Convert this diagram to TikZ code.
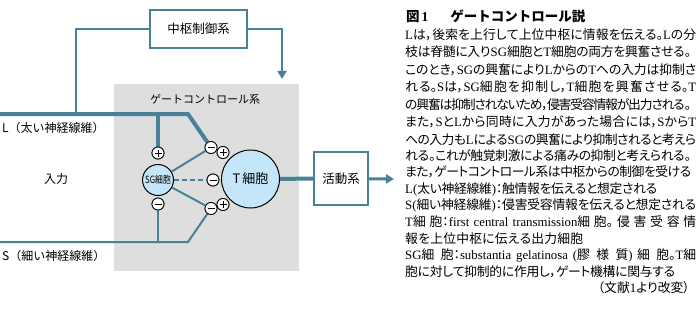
\documentclass[tikz,border=0pt]{standalone}
\usepackage{fontspec}
\usepackage{graphicx}
\setmainfont{Noto Sans CJK JP}
\newfontfamily\jpp[RawFeature=+palt]{Noto Sans CJK JP}
\newfontfamily\latf{Liberation Serif}
\newcommand\rmx[1]{{\latf #1}}
\usetikzlibrary{arrows.meta}
\XeTeXlinebreaklocale "ja"
\XeTeXlinebreakskip=0pt plus 6pt minus 3pt
\definecolor{lineblue}{RGB}{72,130,153}
\definecolor{cellblue}{RGB}{197,230,248}
\definecolor{gatebg}{RGB}{222,222,222}
\newcommand\bodyfont{\jpp\fontsize{12.8}{15}\selectfont}
\newcommand\tl[2]{\parbox[b]{#1pt}{\parindent=0pt\parfillskip=0pt\tolerance=10000\leftskip=0pt\rightskip=0pt #2}}
\tikzset{
  conn/.style={draw=lineblue, line width=2pt},
  thickconn/.style={draw=lineblue, line width=4pt},
  boxn/.style={draw=lineblue, line width=1.5pt, fill=white, inner sep=0, font=\fontsize{12.5}{14}\selectfont},
  cell/.style={circle, draw=black, line width=1pt, fill=cellblue, inner sep=0},
  sign/.style={circle, draw=black, line width=0.8pt, fill=white, minimum size=12pt, inner sep=0},
  plussign/.style={sign, path picture={\draw[line width=0.9pt]
     ([xshift=-3.5pt]path picture bounding box.center) -- ([xshift=3.5pt]path picture bounding box.center)
     ([yshift=-3.5pt]path picture bounding box.center) -- ([yshift=3.5pt]path picture bounding box.center);}},
  minussign/.style={sign, path picture={\draw[line width=0.9pt]
     ([xshift=-3.5pt]path picture bounding box.center) -- ([xshift=3.5pt]path picture bounding box.center);}},
  lbl/.style={inner sep=0, font=\fontsize{12}{14}\selectfont},
  txt/.style={anchor=base west, inner sep=0, font=\bodyfont},
  tip/.style={-{Triangle[width=9pt,length=8pt]}}
}
\begin{document}
\begin{tikzpicture}[x=1pt,y=-1pt]
\useasboundingbox (0,0) rectangle (699,313);
\fill[white] (0,0) rectangle (699,313);
% gate control box
\node[fill=gatebg, minimum width=185pt, minimum height=187pt, inner sep=0] (gate) at (206.5,177.5) {};
\node[lbl, font=\fontsize{11}{13}\selectfont] (gatet) at (205,99) {ゲートコントロール系};
% boxes
\node[boxn, minimum width=97pt, minimum height=38pt] (ctrl) at (198.5,29) {中枢制御系};
\node[boxn, minimum width=54pt, minimum height=53pt] (act) at (341,178.5) {活動系};
% cells
\node[cell, minimum size=31pt] (sg) at (158,180) {\fontsize{10}{10}\selectfont\scalebox{0.78}[1]{SG細胞}};
\node[cell, minimum size=58pt, font=\fontsize{13}{14}\selectfont] (tc) at (250.5,179) {T\,細胞};
% signs
\node[plussign] (p1) at (158,153) {};
\node[minussign] (m1) at (158,204) {};
\node[minussign] (mt) at (211,147.5) {};
\node[plussign] (pt) at (223,152.5) {};
\node[minussign] (mm) at (213,180) {};
\node[minussign] (mb) at (211,208.5) {};
\node[plussign] (pb) at (223,204.5) {};
% coordinates
\coordinate (Lstart) at (0,114);
\coordinate (Lbend) at (188,114);
\coordinate (Ljoin) at (76,114);
\coordinate (Lsg) at (158,114);
\coordinate (Sstart) at (0,242);
\coordinate (Sbend) at (188,242);
\coordinate (Ssg) at (158,242);
\coordinate (ctrlend) at (282,79);
\coordinate (actend) at (394,179);
% connectors
\draw[conn] (ctrl.west) -| (Ljoin);
\draw[conn, tip] (ctrl.east) -| (ctrlend);
\draw[thickconn] (Lstart) -- (Lbend) -- (mt);
\draw[thickconn] (Lsg) -- (p1);
\draw[conn] (sg) -- (mt);
\draw[conn] (sg) -- (mb);
\draw[conn, dashed, dash pattern=on 5pt off 3pt] (sg) -- (mm);
\draw[conn] (Sstart) -- (Sbend) -- (mb);
\draw[conn] (m1) -- (Ssg);
\draw[thickconn] (tc) -- (act);
\draw[draw=lineblue, line width=3pt, tip] (act) -- (actend);
% redraw signs on top
\node[plussign] at (p1) {};
\node[minussign] at (m1) {};
\node[minussign] at (mt) {};
\node[plussign] at (pt) {};
\node[minussign] at (mm) {};
\node[minussign] at (mb) {};
\node[plussign] at (pb) {};
% labels
\node[lbl, anchor=west] (Llab) at (2,128) {L（太い神経線維）};
\node[lbl, anchor=west] (Slab) at (2,256) {S（細い神経線維）};
\node[lbl] (inp) at (56,179) {入力};
% text column
\node[anchor=base west, inner sep=0, font=\fontsize{13.5}{15}\selectfont\bfseries] (title) at (406,22)
  {図\hspace{2pt}\rmx{\bfseries 1}\hspace{22pt}ゲートコントロール説};
\node[txt] (t1) at (405,39.7) {\tl{291}{\rmx{L}は，後索を上行して上位中枢に情報を伝える。\rmx{L}の分}};
\node[txt] (t2) at (405,57) {\tl{286}{枝は脊髄に入り\rmx{SG}細胞と\rmx{T}細胞の両方を興奮させる。}};
\node[txt] (t3) at (405,74.7) {\tl{291}{このとき，\rmx{SG}の興奮により\rmx{L}からの\rmx{T}への入力は抑制さ}};
\node[txt] (t4) at (405,92) {\tl{291}{れる。\rmx{S}は，\rmx{SG}細胞を抑制し，\rmx{T}細胞を興奮させる。\rmx{T}}};
\node[txt] (t5) at (405,109.7) {\tl{286}{の興奮は抑制されないため，侵害受容情報が出力される。}};
\node[txt] (t6) at (405,126.7) {\tl{291}{また，\rmx{S}と\rmx{L}から同時に入力があった場合には，\rmx{S}から\rmx{T}}};
\node[txt] (t7) at (405,144.5) {\tl{291}{への入力も\rmx{L}による\rmx{SG}の興奮により抑制されると考えら}};
\node[txt] (t8) at (405,160) {\tl{286}{れる。これが触覚刺激による痛みの抑制と考えられる。}};
\node[txt] (t9) at (405,176.5) {\tl{286}{また，ゲートコントロール系は中枢からの制御を受ける}};
\node[txt] (t10) at (405,193) {\tl{252}{\rmx{L(}太い神経線維\rmx{)}：触情報を伝えると想定される}};
\node[txt] (t11) at (405,209.7) {\tl{291}{\rmx{S(}細い神経線維\rmx{)}：侵害受容情報を伝えると想定される}};
\node[txt] (t12) at (405,226.5) {\tl{291}{\rmx{T}細胞：\rmx{first central transmission}細胞。侵害受容情}};
\node[txt] (t13) at (405,243) {\tl{178}{報を上位中枢に伝える出力細胞}};
\node[txt] (t14) at (405,259.7) {\tl{291}{\rmx{SG}細胞：\rmx{substantia gelatinosa (}膠様質\rmx{)} 細胞。\rmx{T}細}};
\node[txt] (t15) at (405,276.5) {\tl{270}{胞に対して抑制的に作用し，ゲート機構に関与する}};
\node[txt, anchor=base east] (t16) at (690,292.5) {（文献\rmx{1}より改変）};
\end{tikzpicture}
\end{document}
